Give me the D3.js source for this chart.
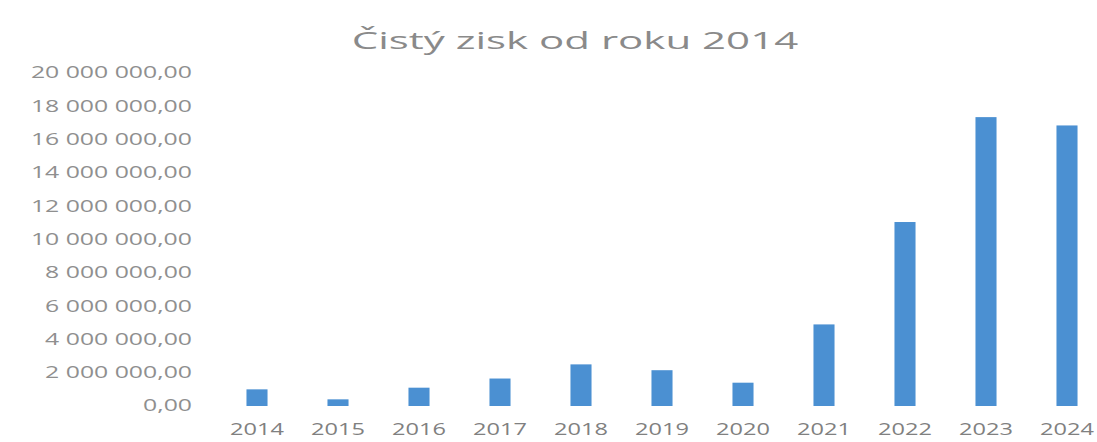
<!DOCTYPE html>
<html><head><meta charset="utf-8">
<script src="https://cdn.jsdelivr.net/npm/d3@7"></script>
<style>body{margin:0;background:#fff}</style>
</head><body>
<svg id="c" width="1097" height="442"></svg>
<script>
const title = "Čistý zisk od roku 2014";
const years = ["2014","2015","2016","2017","2018","2019","2020","2021","2022","2023","2024"];
const values = [1000000, 400000, 1100000, 1650000, 2500000, 2150000, 1400000, 4900000, 11050000, 17350000, 16850000];
const yTicks = [0,2000000,4000000,6000000,8000000,10000000,12000000,14000000,16000000,18000000,20000000];

const svg = d3.select("#c");
const x = d3.scaleBand().domain(years).range([216.5, 1107.5]).paddingInner(0.74).paddingOuter(0.37);
const y = d3.scaleLinear().domain([0, 20000000]).range([406, 73]);
const loc = d3.formatLocale({decimal:",", thousands:" ", grouping:[3], currency:["",""]});
const fmt = loc.format(",.2f");

function stretch(k){
  return sel => sel.each(function(){
    const w = this.getComputedTextLength();
    d3.select(this).attr("textLength", w*k).attr("lengthAdjust","spacingAndGlyphs");
  });
}

// y axis
const ya = svg.append("g").attr("transform","translate(192,0)")
  .call(d3.axisLeft(y).tickValues(yTicks).tickFormat(fmt).tickSize(0).tickPadding(0));
ya.select(".domain").remove();
ya.selectAll("text").attr("font-family","'Open Sans'").attr("font-size",15.5).attr("fill","#8f8f8f").call(stretch(1.6));

// bars
svg.append("g").selectAll("rect").data(values).join("rect")
  .attr("x",(d,i)=>x(years[i]))
  .attr("width",x.bandwidth())
  .attr("y",d=>y(d))
  .attr("height",d=>y(0)-y(d))
  .attr("fill","#4b90d2");

// x axis
const xa = svg.append("g").attr("transform","translate(0,424)")
  .call(d3.axisBottom(x).tickSize(0).tickPadding(0));
xa.select(".domain").remove();
xa.selectAll("text").attr("font-family","'Open Sans'").attr("font-size",15.5).attr("fill","#808080").call(stretch(1.52));

// title
svg.append("text").attr("x",575).attr("y",49).attr("text-anchor","middle")
  .attr("font-family","'Open Sans'").attr("font-size",24).attr("fill","#8a8a8a")
  .text(title).call(stretch(1.75));
</script>
</body></html>
